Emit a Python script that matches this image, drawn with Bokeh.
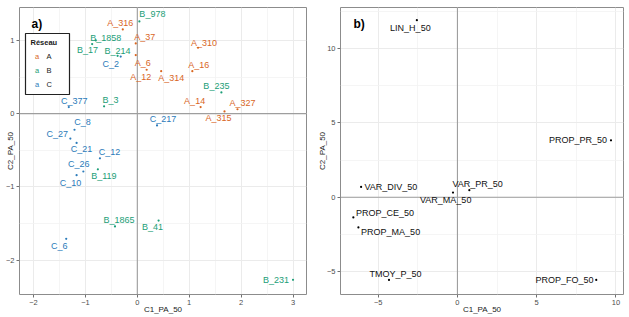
from bokeh.plotting import figure
from bokeh.layouts import row
from bokeh.models import ColumnDataSource, FixedTicker, Span, Label, BoxAnnotation
from bokeh.core.properties import value, field
from bokeh.embed import file_html
from bokeh.resources import INLINE

# ---- a) sites on the first two components ----
site_names = ["A_316", "A_37", "A_6", "A_12", "A_314", "A_310", "A_16", "A_14", "A_327", "A_315",
              "B_978", "B_1858", "B_17", "B_214", "B_3", "B_235", "B_119", "B_1865", "B_41", "B_231",
              "C_2", "C_377", "C_8", "C_27", "C_21", "C_12", "C_26", "C_10", "C_6", "C_217"]
site_network = ["A"] * 10 + ["B"] * 10 + ["C"] * 10
site_c1 = [-0.28, -0.03, -0.03, 0.18, 0.46, 1.17, 1.06, 1.22, 1.93, 1.68,
           0.04, -0.87, -0.80, -0.38, -0.64, 1.62, -0.76, -0.43, 0.41, 3.00,
           -0.32, -1.32, -1.21, -1.29, -1.17, -0.72, -1.04, -1.17, -1.37, 0.38]
site_c2 = [1.15, 0.96, 0.80, 0.60, 0.58, 0.90, 0.58, 0.09, 0.06, 0.03,
           1.26, 0.95, 1.00, 0.79, 0.10, 0.29, -0.76, -1.54, -1.46, -2.27,
           0.78, 0.09, -0.22, -0.34, -0.40, -0.61, -0.79, -0.84, -1.71, -0.16]

# ---- b) variables on the first two components ----
var_names = ["LIN_H_50", "PROP_PR_50", "VAR_DIV_50", "VAR_PR_50", "VAR_MA_50",
             "PROP_CE_50", "PROP_MA_50", "TMOY_P_50", "PROP_FO_50"]
var_c1 = [-2.56, 9.69, -6.08, 0.75, -0.28, -6.57, -6.25, -4.32, 8.76]
var_c2 = [11.90, 3.82, 0.69, 0.47, 0.31, -1.36, -2.03, -5.56, -5.56]

networks = ["A", "B", "C"]
network_colors = {"A": "#D9661F", "B": "#1B9E77", "C": "#2B7BBA"}

# label placement (screen pixels, repelled away from the dots)
site_dx = [-2.5, 9, 7, -6, 10, 6, 6.5, -6, 5, -6,
           13, 13.5, -8.4, 0, 6.5, -5, 6, 4, -6, -4,
           -10, 5.5, 8, -13, 5, 9.5, -4.5, -6, -7, 6]
site_dy = [-6, -6, 8, 7, 7, -5, -6, -6, -6, 7,
           -7, -6.4, 10, -5, -6, -6, 7, -6, 6, 0,
           7, -6, -8, -5, 6.5, -6, -8, 7.5, 7, -6]
site_align = ["center"] * 19 + ["right"] + ["center"] * 10

var_dx = [-6.5, -4, 3.3, 8.3, -7.3, 2.7, 2.7, 6.5, -2.7]
var_dy = [7.4, 0, 0, -6.7, 7, -4.6, 4.4, -5.7, 0]
var_align = ["center", "right", "left", "center", "center", "left", "left", "center", "right"]

FONT = "Liberation Sans"


def style(p, xticks, xminor, yticks, yminor):
    p.xaxis.ticker = FixedTicker(ticks=xticks, minor_ticks=xminor)
    p.yaxis.ticker = FixedTicker(ticks=yticks, minor_ticks=yminor)
    for g in (p.xgrid, p.ygrid):
        g.grid_line_color = "#EBEBEB"
        g.grid_line_width = 1
        g.minor_grid_line_color = "#F3F3F3"
        g.minor_grid_line_width = 0.8
    p.background_fill_color = "white"
    p.border_fill_color = "white"
    p.outline_line_color = "#8c8c8c"
    p.outline_line_width = 1
    p.axis.axis_line_color = None
    p.axis.major_tick_line_color = "#707070"
    p.axis.major_tick_out = 3
    p.axis.major_tick_in = 0
    p.axis.minor_tick_line_color = None
    p.axis.major_label_text_font = FONT
    p.axis.major_label_text_font_size = "7.5px"
    p.axis.major_label_text_color = "#4d4d4d"
    p.axis.major_label_standoff = 1
    p.axis.axis_label_text_font = FONT
    p.axis.axis_label_text_font_style = "normal"
    p.axis.axis_label_text_font_size = "8px"
    p.axis.axis_label_text_color = "#1a1a1a"
    p.xaxis.axis_label_standoff = -3
    p.xaxis.axis_label = "C1_PA_50"
    p.yaxis.axis_label = "C2_PA_50"
    for dim in ("width", "height"):
        p.add_layout(Span(location=0, dimension=dim, line_color="#9e9e9e",
                          line_width=1.1, level="underlay"))


# ---------------- panel a ----------------
pa = figure(width=314, height=317, x_range=(-2.27, 3.26), y_range=(-2.47, 1.45),
            output_backend="svg", toolbar_location=None,
            min_border_left=19, min_border_right=8, min_border_top=7, min_border_bottom=23)
style(pa, [-2, -1, 0, 1, 2, 3], [-1.5, -0.5, 0.5, 1.5, 2.5],
      [-2, -1, 0, 1], [-1.5, -0.5, 0.5])
pa.yaxis.axis_label_standoff = -12

site_src = ColumnDataSource(dict(
    c1=site_c1, c2=site_c2, name=site_names,
    color=[network_colors[n] for n in site_network],
    dx=site_dx, dy=site_dy, align=site_align,
))
pa.scatter("c1", "c2", source=site_src, size=2.2, color="color", line_width=0)
pa.text("c1", "c2", text="name", source=site_src, x_offset="dx", y_offset="dy",
        text_align=field("align"), text_baseline="middle",
        text_font=value(FONT), text_font_size="9px", text_color="color")

pa.add_layout(Label(x=12, y=271, x_units="screen", y_units="screen", text="a)",
                    text_font=FONT, text_font_style="bold", text_font_size="12px",
                    text_baseline="middle", text_color="black"))

# legend box for the networks
pa.add_layout(BoxAnnotation(left=6, right=50, bottom=200, top=261,
                            left_units="screen", right_units="screen",
                            bottom_units="screen", top_units="screen",
                            fill_color="white", fill_alpha=1,
                            line_color="#222222", line_width=1.2, line_alpha=1))
pa.add_layout(Label(x=11, y=252, x_units="screen", y_units="screen", text="Réseau",
                    text_font=FONT, text_font_style="bold", text_font_size="7.5px",
                    text_baseline="middle", text_color="#1a1a1a"))
for i, n in enumerate(networks):
    ky = 238.3 - 14 * i
    pa.add_layout(Label(x=17.7, y=ky, x_units="screen", y_units="screen", text="a",
                        text_font=FONT, text_font_size="7.5px", text_align="center",
                        text_baseline="middle", text_color=network_colors[n]))
    pa.add_layout(Label(x=27, y=ky, x_units="screen", y_units="screen", text=n,
                        text_font=FONT, text_font_size="7.5px",
                        text_baseline="middle", text_color="#1a1a1a"))

# ---------------- panel b ----------------
pb = figure(width=315, height=317, x_range=(-7.38, 10.48), y_range=(-6.54, 12.75),
            output_backend="svg", toolbar_location=None,
            min_border_left=25, min_border_right=6, min_border_top=7, min_border_bottom=23)
style(pb, [-5, 0, 5, 10], [-2.5, 2.5, 7.5],
      [-5, 0, 5, 10], [-2.5, 2.5, 7.5, 12.5])
pb.yaxis.axis_label_standoff = -3

var_src = ColumnDataSource(dict(
    c1=var_c1, c2=var_c2, name=var_names,
    dx=var_dx, dy=var_dy, align=var_align,
))
pb.scatter("c1", "c2", source=var_src, size=2.2, color="black", line_width=0)
pb.text("c1", "c2", text="name", source=var_src, x_offset="dx", y_offset="dy",
        text_align=field("align"), text_baseline="middle",
        text_font=value(FONT), text_font_size="9px", text_color="#111111")

pb.add_layout(Label(x=13, y=271, x_units="screen", y_units="screen", text="b)",
                    text_font=FONT, text_font_style="bold", text_font_size="12px",
                    text_baseline="middle", text_color="black"))

layout = row(pa, pb)
open("out.html", "w").write(file_html(layout, INLINE))
